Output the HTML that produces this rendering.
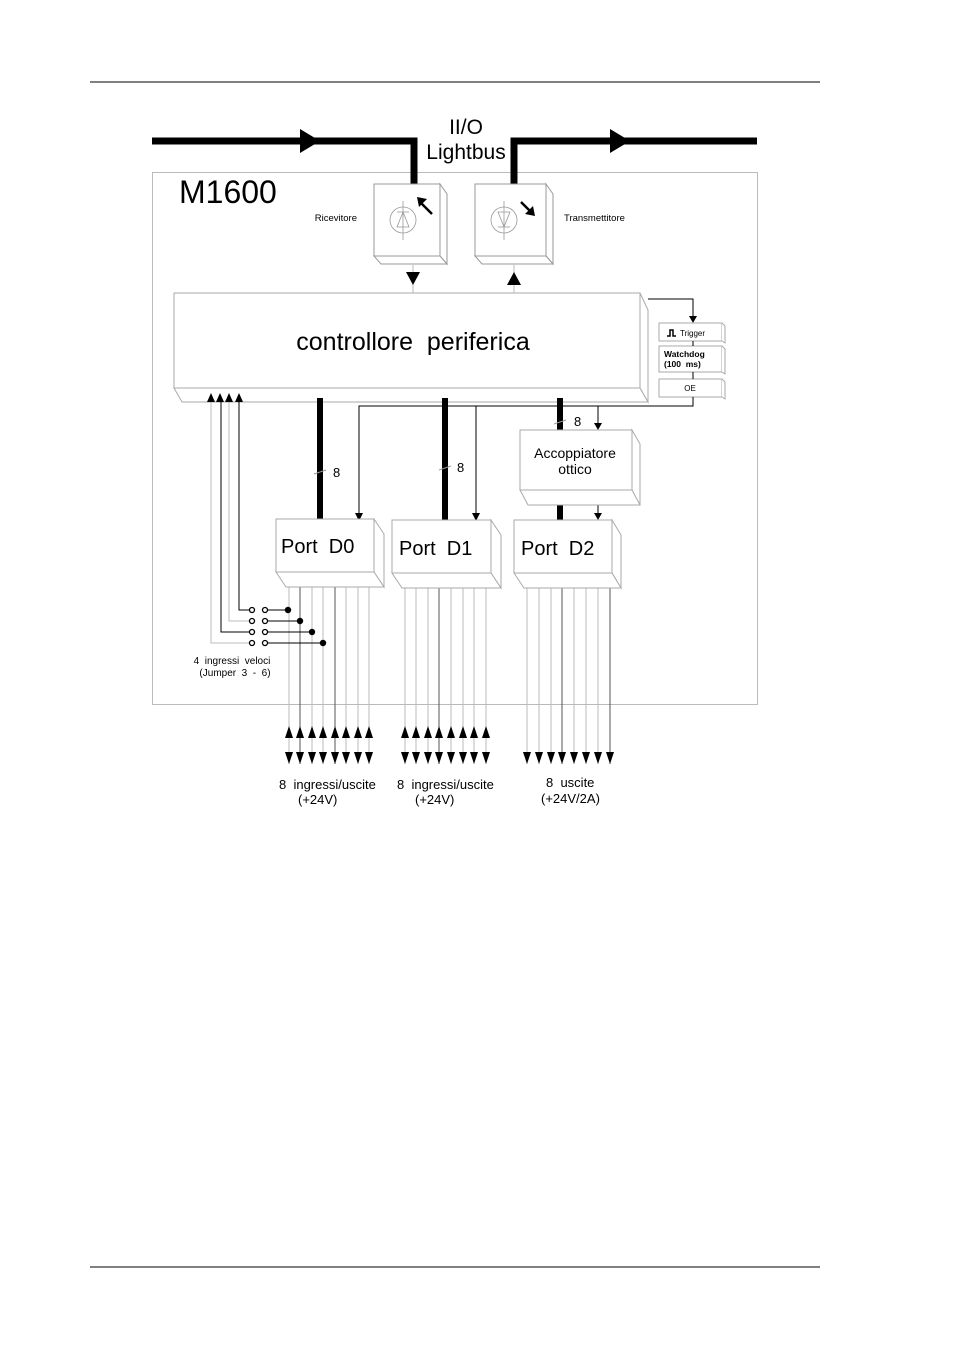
<!DOCTYPE html>
<html><head><meta charset="utf-8"><style>
html,body{margin:0;padding:0;background:#fff;}
svg{display:block;}
text{font-family:"Liberation Sans",sans-serif;white-space:pre;}
</style></head><body>
<svg width="954" height="1350" viewBox="0 0 954 1350" xmlns="http://www.w3.org/2000/svg" xml:space="preserve">
<rect width="954" height="1350" fill="#fff"/>
<line x1="90" y1="82" x2="820" y2="82" stroke="#000" stroke-width="1"/>
<line x1="90" y1="1267" x2="820" y2="1267" stroke="#000" stroke-width="1"/>
<rect x="152.5" y="172.5" width="605" height="532" fill="none" stroke="#bbb" stroke-width="1"/>
<polyline points="152,141 414,141 414,184" fill="none" stroke="#000" stroke-width="7"/>
<polyline points="514,184 514,141 757,141" fill="none" stroke="#000" stroke-width="7"/>
<polygon points="300,129 320,141 300,153" fill="#000"/>
<polygon points="610,129 630,141 610,153" fill="#000"/>
<text x="466" y="134" font-size="21" text-anchor="middle">II/O</text>
<text x="466" y="159" font-size="21" text-anchor="middle">Lightbus</text>
<text x="179" y="203" font-size="32">M1600</text>
<g fill="#fff" stroke="#999" stroke-width="1">
<polygon points="440,184 447,194 447,264 440,256"/>
<polygon points="374,256 440,256 447,264 381,264"/>
<rect x="374" y="184" width="66" height="72"/>
<polygon points="546,184 553,194 553,264 546,256"/>
<polygon points="475,256 546,256 553,264 482,264"/>
<rect x="475" y="184" width="71" height="72"/>
</g>
<g stroke="#999" fill="none" stroke-width="0.8">
<circle cx="403" cy="220" r="13"/><line x1="403" y1="201" x2="403" y2="240"/>
<polygon points="403,212 397,227 409,227"/><line x1="397" y1="212" x2="409" y2="212"/>
<circle cx="504" cy="220" r="13"/><line x1="504" y1="201" x2="504" y2="240"/>
<polygon points="498,212 510,212 504,227"/><line x1="498" y1="227" x2="510" y2="227"/>
</g>
<g fill="#000" stroke="#000" stroke-width="2.5">
<line x1="420" y1="202" x2="432" y2="214"/>
<line x1="521" y1="202" x2="533" y2="214"/>
</g>
<g fill="#000">
<polygon points="417,197 427,199 419,207"/>
<polygon points="535,216 525,214 533,206"/>
</g>
<text x="357" y="221" font-size="9.5" text-anchor="end">Ricevitore</text>
<text x="564" y="221" font-size="9.5">Transmettitore</text>
<line x1="413" y1="265" x2="413" y2="293" stroke="#bbb"/>
<polygon points="406,272 420,272 413,285" fill="#000"/>
<line x1="514" y1="265" x2="514" y2="293" stroke="#bbb"/>
<polygon points="507,285 521,285 514,272" fill="#000"/>
<g fill="#fff" stroke="#aaa" stroke-width="1">
<polygon points="640,293 648,310 648,402 640,388"/>
<polygon points="174,388 640,388 648,402 182,402"/>
<rect x="174" y="293" width="466" height="95"/>
</g>
<text x="413" y="350" font-size="25" text-anchor="middle">controllore  periferica</text>
<polyline points="648,299 693,299 693,318" fill="none" stroke="#000"/>
<polygon points="689,316 697,316 693,323" fill="#000"/>
<g fill="#fff" stroke="#aaa">
<rect x="659" y="323" width="63" height="18"/><rect x="659" y="346" width="63" height="26"/><rect x="659" y="379" width="63" height="18"/>
<polyline points="722,323 725,326 725,343 722,341" /><polyline points="722,346 725,349 725,374 722,372"/><polyline points="722,379 725,382 725,399 722,397"/>
</g>
<line x1="693" y1="341" x2="693" y2="346" stroke="#000"/>
<line x1="693" y1="372" x2="693" y2="379" stroke="#000"/>
<path d="M667 336 h3 v-6 h3 v6 h3" fill="none" stroke="#000" stroke-width="1.5"/>
<text x="680" y="336" font-size="8">Trigger</text>
<text x="664" y="357" font-size="8.5" font-weight="bold">Watchdog</text>
<text x="664" y="367" font-size="8.5" font-weight="bold">(100  ms)</text>
<text x="690" y="391" font-size="8" text-anchor="middle">OE</text>
<polyline points="693,397 693,406 359,406 359,514" fill="none" stroke="#000"/>
<polygon points="355,513 363,513 359,521" fill="#000"/>
<line x1="476" y1="406" x2="476" y2="514" stroke="#000"/>
<polygon points="472,513 480,513 476,521" fill="#000"/>
<line x1="598" y1="406" x2="598" y2="424" stroke="#000"/>
<polygon points="594,423 602,423 598,430" fill="#000"/>
<line x1="598" y1="505" x2="598" y2="514" stroke="#000"/>
<polygon points="594,513 602,513 598,520" fill="#000"/>
<line x1="320" y1="398" x2="320" y2="520" stroke="#000" stroke-width="6"/>
<line x1="445" y1="398" x2="445" y2="520" stroke="#000" stroke-width="6"/>
<line x1="560" y1="398" x2="560" y2="430" stroke="#000" stroke-width="6"/>
<line x1="560" y1="505" x2="560" y2="520" stroke="#000" stroke-width="6"/>
<line x1="314" y1="474" x2="326" y2="470" stroke="#999"/><text x="333" y="477" font-size="13">8</text>
<line x1="439" y1="470" x2="451" y2="466" stroke="#999"/><text x="457" y="472" font-size="13">8</text>
<line x1="554" y1="424" x2="566" y2="420" stroke="#999"/><text x="574" y="426" font-size="13">8</text>
<g fill="#fff" stroke="#aaa">
<polygon points="632,430 640,444 640,505 632,490"/>
<polygon points="520,490 632,490 640,505 528,505"/>
<rect x="520" y="430" width="112" height="60"/>
</g>
<text x="575" y="458" font-size="14" text-anchor="middle">Accoppiatore</text>
<text x="575" y="474" font-size="14" text-anchor="middle">ottico</text>
<g stroke="#bbb" stroke-width="1">
<line x1="289" y1="586" x2="289" y2="764"/><line x1="312" y1="586" x2="312" y2="764"/><line x1="323" y1="586" x2="323" y2="764"/><line x1="346" y1="586" x2="346" y2="764"/><line x1="358" y1="586" x2="358" y2="764"/><line x1="369" y1="586" x2="369" y2="764"/>
<line x1="405" y1="586" x2="405" y2="764"/><line x1="416" y1="586" x2="416" y2="764"/><line x1="428" y1="586" x2="428" y2="764"/><line x1="451" y1="586" x2="451" y2="764"/><line x1="463" y1="586" x2="463" y2="764"/><line x1="474" y1="586" x2="474" y2="764"/><line x1="486" y1="586" x2="486" y2="764"/>
<line x1="527" y1="586" x2="527" y2="764"/><line x1="539" y1="586" x2="539" y2="764"/><line x1="551" y1="586" x2="551" y2="764"/><line x1="574" y1="586" x2="574" y2="764"/><line x1="586" y1="586" x2="586" y2="764"/><line x1="598" y1="586" x2="598" y2="764"/>
</g>
<g stroke="#555" stroke-width="1">
<line x1="300" y1="586" x2="300" y2="764"/><line x1="335" y1="586" x2="335" y2="764"/>
<line x1="439" y1="586" x2="439" y2="764"/>
<line x1="562" y1="586" x2="562" y2="764"/><line x1="610" y1="586" x2="610" y2="764"/>
</g>
<g fill="#fff" stroke="#aaa">
<polygon points="374,519 384,534 384,587 374,572"/><polygon points="276,572 374,572 384,587 286,587"/><rect x="276" y="519" width="98" height="53"/>
<polygon points="491,520 501,535 501,588 491,573"/><polygon points="392,573 491,573 501,588 402,588"/><rect x="392" y="520" width="99" height="53"/>
<polygon points="612,520 621,535 621,588 612,573"/><polygon points="514,573 612,573 621,588 524,588"/><rect x="514" y="520" width="98" height="53"/>
</g>
<text x="281" y="553" font-size="20">Port  D0</text>
<text x="399" y="555" font-size="20">Port  D1</text>
<text x="521" y="555" font-size="20">Port  D2</text>
<polyline points="239,398 239,610 252,610" fill="none" stroke="#000"/>
<polyline points="229,398 229,621 252,621" fill="none" stroke="#bbb"/>
<polyline points="221,398 221,632 252,632" fill="none" stroke="#000"/>
<polyline points="211,398 211,643 252,643" fill="none" stroke="#bbb"/>
<g fill="#000">
<polygon points="207,402 215,402 211,393"/><polygon points="216,402 224,402 220,393"/><polygon points="225,402 233,402 229,393"/><polygon points="235,402 243,402 239,393"/>
</g>
<g fill="#fff" stroke="#000" stroke-width="1.3">
<circle cx="252" cy="610" r="2.5"/><circle cx="265" cy="610" r="2.5"/>
<circle cx="252" cy="621" r="2.5"/><circle cx="265" cy="621" r="2.5"/>
<circle cx="252" cy="632" r="2.5"/><circle cx="265" cy="632" r="2.5"/>
<circle cx="252" cy="643" r="2.5"/><circle cx="265" cy="643" r="2.5"/>
</g>
<g stroke="#000"><line x1="268" y1="610" x2="288" y2="610"/><line x1="268" y1="621" x2="300" y2="621"/><line x1="268" y1="632" x2="312" y2="632"/><line x1="268" y1="643" x2="323" y2="643"/></g>
<g fill="#000"><circle cx="288" cy="610" r="3.2"/><circle cx="300" cy="621" r="3.2"/><circle cx="312" cy="632" r="3.2"/><circle cx="323" cy="643" r="3.2"/></g>
<text x="232" y="664" font-size="10" text-anchor="middle">4  ingressi  veloci</text>
<text x="235" y="676" font-size="10" text-anchor="middle">(Jumper  3  -  6)</text>
<g fill="#000">
<g id="ud">
<polygon points="285,738 293,738 289,726"/><polygon points="285,752 293,752 289,764"/>
</g>
<use href="#ud" x="11"/><use href="#ud" x="23"/><use href="#ud" x="34"/><use href="#ud" x="46"/><use href="#ud" x="57"/><use href="#ud" x="69"/><use href="#ud" x="80"/>
<use href="#ud" x="116"/><use href="#ud" x="127"/><use href="#ud" x="139"/><use href="#ud" x="150"/><use href="#ud" x="162"/><use href="#ud" x="174"/><use href="#ud" x="185"/><use href="#ud" x="197"/>
<g id="dn"><polygon points="523,752 531,752 527,764"/></g>
<use href="#dn" x="12"/><use href="#dn" x="24"/><use href="#dn" x="35"/><use href="#dn" x="47"/><use href="#dn" x="59"/><use href="#dn" x="71"/><use href="#dn" x="83"/>
</g>
<text x="279" y="789" font-size="13">8  ingressi/uscite</text>
<text x="298" y="804" font-size="13">(+24V)</text>
<text x="397" y="789" font-size="13">8  ingressi/uscite</text>
<text x="415" y="804" font-size="13">(+24V)</text>
<text x="546" y="787" font-size="13">8  uscite</text>
<text x="541" y="803" font-size="13">(+24V/2A)</text>
</svg>
</body></html>
